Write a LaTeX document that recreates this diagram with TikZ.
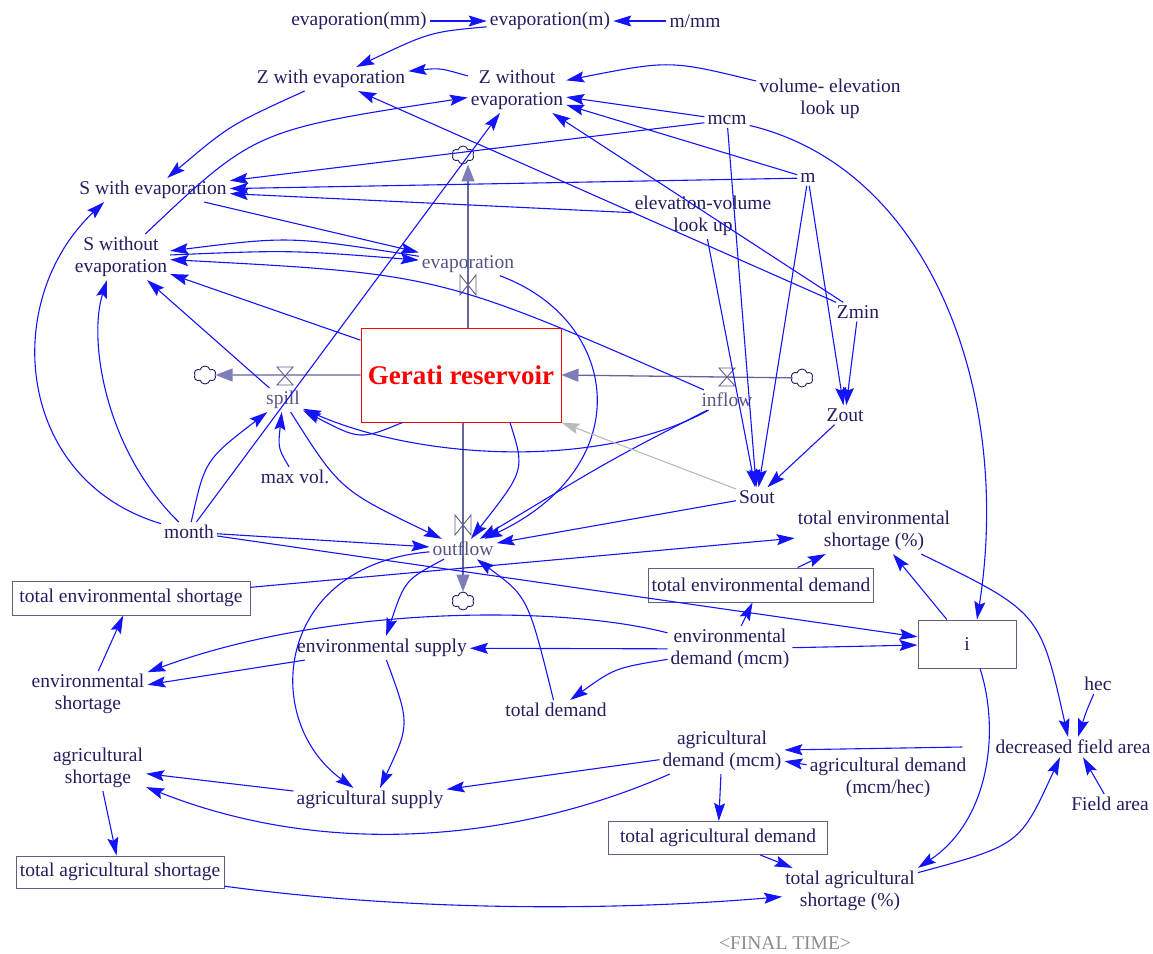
\documentclass[tikz,border=0pt]{standalone}
\usepackage{fontspec}
\setmainfont{Liberation Serif}
\usetikzlibrary{arrows.meta,shapes.symbols}
\definecolor{txt}{RGB}{35,30,95}
\definecolor{flowtxt}{RGB}{85,85,130}
\definecolor{boxc}{RGB}{95,95,135}
\definecolor{lnk}{RGB}{20,20,250}
\definecolor{pipec}{RGB}{100,100,160}
\definecolor{pipeh}{RGB}{125,125,185}
\definecolor{grayl}{RGB}{185,185,185}
\definecolor{ftc}{RGB}{140,140,140}
\tikzset{
  bowtie/.pic={\draw[draw=boxc,fill=white,line width=0.9pt] (-8,-10) -- (8,10) -- (8,-10) -- (-8,10) -- cycle;},
  hourglass/.pic={\draw[draw=boxc,fill=white,line width=0.9pt] (-8,-9) -- (8,9) -- (-8,9) -- (8,-9) -- cycle;}
}
\begin{document}
\begin{tikzpicture}[x=1pt,y=-1pt,
  v/.style={text=txt,font=\fontsize{19.5}{22}\selectfont,inner sep=3pt,align=center},
  fl/.style={v,text=flowtxt},
  bx/.style={v,draw=boxc,line width=1pt},
  ca/.style={draw=lnk,line width=1.1pt,-{Stealth[length=18pt,width=11pt,inset=3pt]}},
  ga/.style={draw=grayl,line width=1.1pt,-{Stealth[length=18pt,width=11pt,inset=3pt]}},
  pipe/.style={draw=pipec,line width=1.3pt,-{Triangle[length=17pt,width=13pt,color=pipeh]}},
  cl/.style={cloud,cloud puffs=6,draw=txt,line width=0.9pt,minimum width=22pt,minimum height=18pt,inner sep=0pt,aspect=1.2}
]
\useasboundingbox (0,0) rectangle (1153,953);

% stock
\node[draw=red,line width=1pt,minimum width=200pt,minimum height=94pt,text=red,font=\bfseries\fontsize{27}{30}\selectfont] (res) at (461,375) {Gerati reservoir};

% clouds
\node[cl] (cle) at (463,155) {};
\node[cl] (cls) at (205,375) {};
\node[cl] (cli) at (802,378) {};
\node[cl] (clo) at (463,601) {};

% pipes
\draw[pipe] ([xshift=7pt]res.north) -- ([xshift=5pt]cle.south);
\draw[pipe] (res.west) -- (cls);
\draw[pipe] (cli) -- (res.east);
\draw[pipe] ([xshift=2pt]res.south) -- (clo);

% valves
\pic at (468,285) {bowtie};
\pic at (285,376) {hourglass};
\pic at (727,377) {hourglass};
\pic at (463,525) {bowtie};

% flow labels
\node[fl] (evap) at (468,264) {evaporation};
\node[fl] (spill) at (283,400) {spill};
\node[fl] (inflow) at (727,400) {inflow};
\node[fl] (outflow) at (463,549) {outflow};

% variables
\node[v] (emm) at (359,21) {evaporation(mm)};
\node[v] (em) at (550,21) {evaporation(m)};
\node[v] (mmm) at (695,21) {m/mm};
\node[v] (zw) at (331,79) {Z with evaporation};
\node[v] (zwo) at (517,90) {Z without\\evaporation};
\node[v] (vel) at (830,99) {volume- elevation\\look up};
\node[v] (mcm) at (727,120) {mcm};
\node[v] (m) at (808,178) {m};
\node[v] (sw) at (153,190) {S with evaporation};
\node[v] (evl) at (703,216) {elevation-volume\\look up};
\node[v] (swo) at (121,257) {S without\\evaporation};
\node[v] (zmin) at (858,312) {Zmin};
\node[v] (zout) at (845,415) {Zout};
\node[v] (maxv) at (295,477) {max vol.};
\node[v] (sout) at (757,497) {Sout};
\node[v] (month) at (189,532) {month};
\node[v] (tesp) at (874,531) {total environmental\\shortage (\%)};
\node[bx,minimum width=238pt,minimum height=34pt] (tes) at (131,598) {total environmental shortage};
\node[bx,minimum width=222pt,minimum height=34pt] (ted) at (761,585) {total environmental demand};
\node[bx,minimum width=98pt,minimum height=48pt] (i) at (967,644) {i};
\node[v] (esup) at (382,648) {environmental supply};
\node[v] (edem) at (730,649) {environmental\\demand (mcm)};
\node[v] (eshort) at (88,694) {environmental\\shortage};
\node[v] (hec) at (1098,684) {hec};
\node[v] (tdem) at (556,710) {total demand};
\node[v] (adem) at (722,751) {agricultural\\demand (mcm)};
\node[v] (dfa) at (1073,747) {decreased field area};
\node[v] (ashort) at (98,768) {agricultural\\shortage};
\node[v] (adh) at (888,778) {agricultural demand\\(mcm/hec)};
\node[v] (asup) at (370,800) {agricultural supply};
\node[v] (fa) at (1110,804) {Field area};
\node[bx,minimum width=219pt,minimum height=33pt] (tad) at (718,838) {total agricultural demand};
\node[bx,minimum width=208pt,minimum height=32pt] (tas) at (120,872) {total agricultural shortage};
\node[v] (tasp) at (850,891) {total agricultural\\shortage (\%)};
\node[v,text=ftc] (ft) at (785,943) {<FINAL TIME>};

% connectors - top
\draw[ca] (emm) -- (em);
\draw[ca] (mmm) -- (em);
\draw[ca] (em) .. controls (430,32) .. (zw);
\draw[ca] (zwo) .. controls (440,68) .. (zw);
\draw[ca] (vel) .. controls (670,60) .. (zwo);
\draw[ca] (mcm) -- (zwo);
\draw[ca] (m) -- (zwo);
\draw[ca] (zmin) -- (zwo);
\draw[ca] (zmin) -- (zw);
\draw[ca] (zw) .. controls (230,125) .. (sw);
\draw[ca] (mcm) -- (sw);
\draw[ca] (m) -- (sw);
\draw[ca] (evl) -- (sw);
\draw[ca] (sw) -- (evap);
\draw[ca] (evap) .. controls (290,236) .. (swo);
\draw[ca] (swo) .. controls (290,250) .. (evap);
\draw[ca] (inflow) .. controls (440,274) .. (swo);
\draw[ca] (res) -- (swo);
\draw[ca] (spill) -- (swo);
\draw[ca] (swo) .. controls (255,130) .. (zwo);
\draw[ca] (month) .. controls (15,480) and (0,300) .. ([xshift=28pt]sw.south west);
\draw[ca] (month) .. controls (105,450) and (88,340) .. ([xshift=-14pt]swo.south);
\draw[ca] (month) .. controls (205,460) .. (spill);
\draw[ca] (month) -- (zwo);
\draw[ca] (maxv) .. controls (278,448) .. (spill);

% around outflow
\draw[ca] (spill) .. controls (340,490) .. (outflow);
\draw[ca] (month) -- (outflow);
\draw[ca] (month) -- (i);
\draw[ca] ([xshift=42pt]res.south west) .. controls (360,440) .. (spill);
\draw[ca] (inflow) .. controls (600,470) and (420,460) .. (spill);
\draw[ca] (inflow) .. controls (610,460) .. (outflow);
\draw[ca] (evap) .. controls (620,320) and (640,465) .. (outflow);
\draw[ca] ([xshift=49pt]res.south) .. controls (525,470) .. (outflow);
\draw[ca] (sout) -- (outflow);
\draw[ga] (sout) -- (res.south east);

% right column
\draw[ca] (zmin) -- (zout);
\draw[ca] (m) -- (zout);
\draw[ca] (zout) -- (sout);
\draw[ca] (m) -- (sout);
\draw[ca] (mcm) -- (sout);
\draw[ca] (evl) -- (sout);
\draw[ca] (mcm) .. controls (935,170) and (1012,400) .. ([xshift=10pt]i.north);
\draw[ca] (tes) -- (tesp);
\draw[ca] (ted) -- (tesp);
\draw[ca] (i) -- (tesp);
\draw[ca] (tesp) .. controls (1040,612) .. ([xshift=-5pt]dfa.north);
\draw[ca] (hec) .. controls (1086,712) .. ([xshift=5pt]dfa.north);
\draw[ca] (fa) -- ([xshift=10pt]dfa.south);
\draw[ca] (tasp) .. controls (1020,845) .. ([xshift=-13pt]dfa.south);
\draw[ca] ([xshift=13pt]i.south) .. controls (1000,730) and (990,820) .. (tasp.north east);

% lower part
\draw[ca] (edem) -- (i);
\draw[ca] (edem) .. controls (560,605) and (330,605) .. (eshort);
\draw[ca] (esup) -- (eshort);
\draw[ca] (edem) -- (esup);
\draw[ca] (edem) .. controls (615,668) .. (tdem);
\draw[ca] (edem) -- (ted);
\draw[ca] (eshort) -- (tes);
\draw[ca] (tdem) .. controls (528,597) .. (outflow);
\draw[ca] (outflow) .. controls (405,580) .. (esup);
\draw[ca] (outflow) .. controls (275,565) and (260,720) .. (asup);
\draw[ca] (esup) .. controls (410,724) .. ([xshift=10pt]asup.north);
\draw[ca] (adem) -- (asup);
\draw[ca] (asup) -- (ashort);
\draw[ca] (adem) .. controls (520,840) and (330,860) .. (ashort);
\draw[ca] (ashort) -- (tas);
\draw[ca] (adem) -- (tad);
\draw[ca] (adh) -- (adem);
\draw[ca] ([xshift=-30pt]dfa.west) -- (adem);
\draw[ca] (tad) -- (tasp);
\draw[ca] (tas) .. controls (400,910) and (600,912) .. (tasp);
\end{tikzpicture}
\end{document}
